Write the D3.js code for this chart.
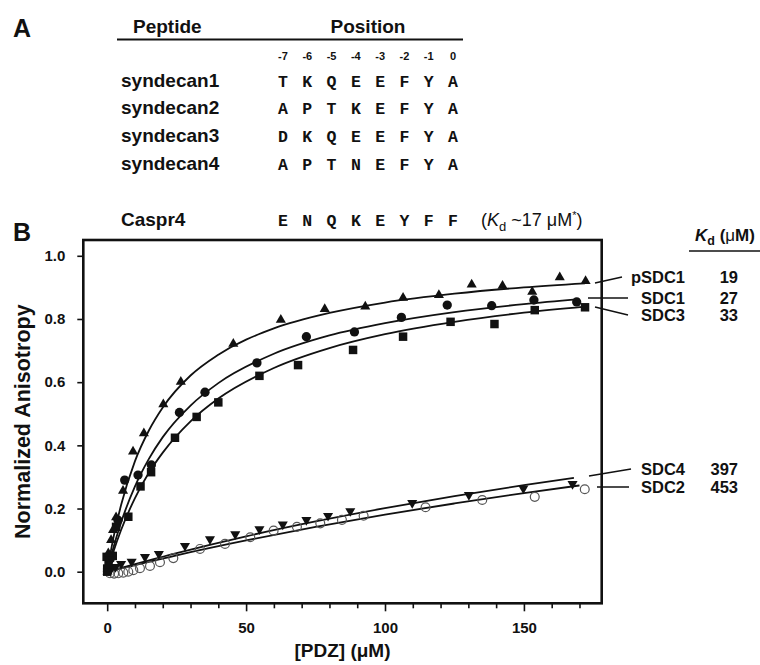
<!DOCTYPE html>
<html>
<head>
<meta charset="utf-8">
<script src="https://cdn.jsdelivr.net/npm/d3@7"></script>
<style>
  body { margin: 0; background: #fff; }
  text { font-family: "Liberation Sans", Arial, Helvetica, sans-serif; fill: #111; }
</style>
</head>
<body>
<div id="chart"></div>
<script>
// ---- panel A: peptide table ----
let positions = ['-7', '-6', '-5', '-4', '-3', '-2', '-1', '0']
let peptides = ['syndecan1', 'syndecan2', 'syndecan3', 'syndecan4', 'Caspr4']
let sequences = ['TKQEEFYA', 'APTKEFYA', 'DKQEEFYA', 'APTNEFYA', 'ENQKEYFF']

// ---- panel B: [PDZ] (uM) vs normalized anisotropy ----
let pSDC1Points = [[0.1, 0.0], [0.2, 0.01], [0.6, 0.02], [0.4, 0.058], [1.4, 0.10], [2.1, 0.132], [3.2, 0.172],
  [5.7, 0.256], [9.3, 0.38], [13.2, 0.438], [20.2, 0.530], [26.5, 0.601], [45.4, 0.721], [62.5, 0.797],
  [78.3, 0.831], [92.9, 0.839], [106.5, 0.867], [119.4, 0.876], [131.2, 0.909], [142.3, 0.905],
  [153.0, 0.886], [162.9, 0.932], [172.2, 0.92]]
let sdc1Points = [[0.3, 0.01], [1.0, 0.04], [1.8, 0.05], [3.9, 0.163], [6.3, 0.29], [11.1, 0.306], [15.9, 0.338],
  [26.0, 0.504], [35.2, 0.568], [53.9, 0.661], [71.7, 0.744], [89.0, 0.759], [105.9, 0.805],
  [122.4, 0.844], [138.4, 0.842], [153.6, 0.860], [169.0, 0.854]]
let sdc3Points = [[0.0, 0.0], [0.0, 0.01], [0.5, 0.03], [-0.2, 0.047], [1.0, 0.045], [2.0, 0.05], [3.2, 0.142],
  [7.6, 0.174], [12.0, 0.27], [15.8, 0.315], [24.4, 0.424], [32.2, 0.490], [40.0, 0.536], [54.8, 0.620],
  [68.7, 0.654], [88.5, 0.702], [106.5, 0.744], [123.6, 0.791], [139.4, 0.784], [153.9, 0.828], [172.0, 0.837]]
let sdc4Points = [[0.5, 0.005], [1.5, 0.01], [3.0, 0.015], [5.0, 0.025], [8.8, 0.032], [13.6, 0.047], [18.6, 0.056],
  [28.0, 0.082], [37.0, 0.103], [46.1, 0.119], [54.8, 0.135], [63.2, 0.150], [71.7, 0.164], [79.5, 0.177],
  [87.5, 0.192], [109.8, 0.218], [130.2, 0.243], [149.8, 0.264], [167.5, 0.278]]
let sdc2Points = [[1.0, -0.005], [2.5, -0.006], [4.0, -0.005], [5.8, -0.003], [7.6, 0.0], [9.4, 0.005],
  [11.8, 0.011], [15.4, 0.018], [19.0, 0.03], [23.8, 0.043], [33.4, 0.072], [42.4, 0.088], [51.5, 0.109],
  [59.9, 0.13], [68.3, 0.142], [76.7, 0.153], [84.5, 0.164], [92.3, 0.177], [114.6, 0.204], [135.0, 0.227],
  [153.9, 0.237], [171.9, 0.261]]

// fitted curves
let fitPSDC1 = [[0, 0], [2, 0.097], [5, 0.211], [10, 0.35], [15, 0.447], [20, 0.52], [30, 0.621], [40, 0.687],
  [60, 0.77], [80, 0.819], [100, 0.852], [125, 0.88], [150, 0.9], [172, 0.913]]
let fitSDC1 = [[0, 0], [2, 0.069], [5, 0.156], [10, 0.27], [15, 0.357], [20, 0.426], [30, 0.526], [40, 0.597],
  [60, 0.69], [80, 0.748], [100, 0.787], [125, 0.822], [150, 0.847], [170, 0.863]]
let fitSDC3 = [[0, 0], [2, 0.057], [5, 0.132], [10, 0.233], [15, 0.313], [20, 0.377], [30, 0.476], [40, 0.548],
  [60, 0.645], [80, 0.708], [100, 0.752], [125, 0.791], [150, 0.82], [172, 0.839]]
let fitSDC4 = [[0, 0], [25, 0.059], [50, 0.112], [75, 0.159], [100, 0.201], [125, 0.239], [150, 0.274], [168, 0.297]]
let fitSDC2 = [[0, 0], [25, 0.052], [50, 0.099], [75, 0.142], [100, 0.181], [125, 0.216], [150, 0.249], [170, 0.273]]

let curveNames = ['pSDC1', 'SDC1', 'SDC3', 'SDC4', 'SDC2']
let kdValues = ['19', '27', '33', '397', '453']

let xMajor = [0, 50, 100, 150]
let xMinor = [10, 20, 30, 40, 60, 70, 80, 90, 110, 120, 130, 140, 160, 170]
let yTicks = [0, 0.2, 0.4, 0.6, 0.8, 1.0]

// ---- layout ----
let width = 760,
  height = 665,
  plot = { left: 83.3, right: 601.7, top: 240, bottom: 603.3 },
  labelFont = 19, // panel A label size
  seqFont = 16.5

let svg = d3.select('#chart').append('svg')
  .attr('width', width)
  .attr('height', height)

// ================= panel A =================
let col = d3.scalePoint()
  .domain(positions)
  .range([283, 453])

let rowY = d3.scaleLinear()
  .domain([0, 3])
  .range([86.5, 170])

function rowIndex(i) {
  return i < 4 ? i : 5 // gap before Caspr4
}

svg.append('text')
  .attr('x', 13).attr('y', 37)
  .attr('font-size', 25).attr('font-weight', 'bold')
  .text('A')

svg.append('text')
  .attr('x', 133).attr('y', 32.5)
  .attr('font-size', labelFont).attr('font-weight', 'bold')
  .text('Peptide')

svg.append('text')
  .attr('x', (col('-7') + col('0')) / 2).attr('y', 32.5)
  .attr('text-anchor', 'middle')
  .attr('font-size', labelFont).attr('font-weight', 'bold')
  .text('Position')

svg.append('line')
  .attr('x1', 117).attr('x2', 463)
  .attr('y1', 39.5).attr('y2', 39.5)
  .attr('stroke', '#111').attr('stroke-width', 2)

svg.append('g').selectAll('.pos-num')
  .data(positions)
  .enter().append('text')
  .attr('x', function (d) { return col(d) })
  .attr('y', 60)
  .attr('text-anchor', 'middle')
  .attr('font-size', 11).attr('font-weight', 'bold')
  .text(function (d) { return d })

svg.append('g').selectAll('.pep-name')
  .data(peptides)
  .enter().append('text')
  .attr('x', 121)
  .attr('y', function (d, i) { return rowY(rowIndex(i)) })
  .attr('font-size', labelFont).attr('font-weight', 'bold')
  .text(function (d) { return d })

sequences.forEach(function (seq, i) {
  svg.append('g').selectAll('text')
    .data(seq.split(''))
    .enter().append('text')
    .attr('x', function (d, j) { return col(positions[j]) })
    .attr('y', rowY(rowIndex(i)))
    .attr('text-anchor', 'middle')
    .attr('font-size', seqFont)
    .attr('font-weight', 'bold')
    .style('font-family', '"Courier New", "Liberation Mono", "DejaVu Sans Mono", monospace')
    .text(function (d) { return d })
})

let kdNote = svg.append('text')
  .attr('x', 481).attr('y', rowY(5))
  .attr('font-size', 18)
kdNote.append('tspan').text('(')
kdNote.append('tspan').attr('font-style', 'italic').text('K')
kdNote.append('tspan').attr('font-size', 13).attr('dy', 5).text('d')
kdNote.append('tspan').attr('dy', -5).text(' ~17 \u03bcM')
kdNote.append('tspan').attr('font-size', 11).attr('dy', -7).text('*')
kdNote.append('tspan').attr('dy', 7).text(')')

// ================= panel B =================
let x = d3.scaleLinear()
  .domain([-8.6, 178])
  .range([plot.left, plot.right])

let y = d3.scaleLinear()
  .domain([-0.1, 1.05])
  .range([plot.bottom, plot.top])

svg.append('text')
  .attr('x', 13).attr('y', 241)
  .attr('font-size', 25).attr('font-weight', 'bold')
  .text('B')

// axes
let axisFont = '"Liberation Sans", Arial, sans-serif'

let gx = svg.append('g')
  .attr('transform', 'translate(0,' + plot.bottom + ')')
  .call(d3.axisBottom(x).tickValues(xMajor).tickSize(8).tickPadding(11).tickFormat(d3.format('d')))
gx.select('.domain').remove()

let gxMinor = svg.append('g')
  .attr('transform', 'translate(0,' + plot.bottom + ')')
  .call(d3.axisBottom(x).tickValues(xMinor).tickSize(5).tickFormat(''))
gxMinor.select('.domain').remove()

let gy = svg.append('g')
  .attr('transform', 'translate(' + plot.left + ',0)')
  .call(d3.axisLeft(y).tickValues(yTicks).tickSize(6).tickPadding(12).tickFormat(d3.format('.1f')))
gy.select('.domain').remove()

svg.selectAll('.tick line').attr('stroke', '#111').attr('stroke-width', 1.6)
svg.selectAll('.tick text')
  .attr('font-size', 15)
  .attr('font-weight', 'bold')
  .attr('font-family', axisFont)
  .attr('fill', '#111')

svg.append('text')
  .attr('x', (plot.left + plot.right) / 2).attr('y', 657)
  .attr('text-anchor', 'middle')
  .attr('font-size', 19).attr('font-weight', 'bold')
  .text('[PDZ] (\u03bcM)')

svg.append('text')
  .attr('transform', 'translate(30,' + (plot.top + plot.bottom) / 2 + ') rotate(-90)')
  .attr('text-anchor', 'middle')
  .attr('font-size', 21.5).attr('font-weight', 'bold')
  .text('Normalized Anisotropy')

// fitted lines
let line = d3.line()
  .x(function (d) { return x(d[0]) })
  .y(function (d) { return y(d[1]) })
  .curve(d3.curveMonotoneX)

let fits = [fitPSDC1, fitSDC1, fitSDC3, fitSDC4, fitSDC2]

svg.append('g').selectAll('.fit')
  .data(fits)
  .enter().append('path')
  .attr('d', line)
  .attr('fill', 'none')
  .attr('stroke', '#111')
  .attr('stroke-width', 1.8)

// data markers
let series = [
  { pts: sdc2Points, type: d3.symbolCircle, size: 62, rot: 0, fill: 'none', stroke: '#555' },
  { pts: sdc4Points, type: d3.symbolTriangle, size: 44, rot: 180, fill: '#111', stroke: 'none' },
  { pts: sdc3Points, type: d3.symbolSquare, size: 72, rot: 0, fill: '#111', stroke: 'none' },
  { pts: sdc1Points, type: d3.symbolCircle, size: 68, rot: 0, fill: '#111', stroke: 'none' },
  { pts: pSDC1Points, type: d3.symbolTriangle, size: 44, rot: 0, fill: '#111', stroke: 'none' }
]

series.forEach(function (s) {
  svg.append('g').selectAll('path')
    .data(s.pts)
    .enter().append('path')
    .attr('d', d3.symbol().type(s.type).size(s.size))
    .attr('transform', function (d) {
      return 'translate(' + x(d[0]) + ',' + y(d[1]) + ') rotate(' + s.rot + ')'
    })
    .attr('fill', s.fill)
    .attr('stroke', s.stroke)
    .attr('stroke-width', 1.2)
})

// frame
svg.append('rect')
  .attr('x', plot.left).attr('y', plot.top)
  .attr('width', plot.right - plot.left)
  .attr('height', plot.bottom - plot.top)
  .attr('fill', 'none')
  .attr('stroke', '#111')
  .attr('stroke-width', 2.6)

// curve labels with leader lines
let leaderX1 = [595, 588, 595, 589, 597],
  leaderX2 = [622, 628, 628, 631, 629],
  leaderY1 = [283, 298, 307, 476, 487],
  leaderY2 = [277, 298, 315, 469, 487]

let labels = svg.append('g')

curveNames.forEach(function (name, i) {
  labels.append('line')
    .attr('x1', leaderX1[i]).attr('y1', leaderY1[i])
    .attr('x2', leaderX2[i]).attr('y2', leaderY2[i])
    .attr('stroke', '#111').attr('stroke-width', 1.5)

  labels.append('text')
    .attr('x', 685).attr('y', leaderY2[i])
    .attr('dy', '0.36em')
    .attr('text-anchor', 'end')
    .attr('font-size', 16.5).attr('font-weight', 'bold')
    .text(name)

  labels.append('text')
    .attr('x', 738).attr('y', leaderY2[i])
    .attr('dy', '0.36em')
    .attr('text-anchor', 'end')
    .attr('font-size', 16.5).attr('font-weight', 'bold')
    .text(kdValues[i])
})

let kdHead = svg.append('text')
  .attr('x', 695).attr('y', 241)
  .attr('font-size', 17).attr('font-weight', 'bold')
kdHead.append('tspan').attr('font-style', 'italic').text('K')
kdHead.append('tspan').attr('font-size', 12.5).attr('dy', 4).text('d')
kdHead.append('tspan').attr('dy', -4).text(' (')
kdHead.append('tspan').attr('font-weight', 'normal').text('\u03bc')
kdHead.append('tspan').text('M)')

svg.append('line')
  .attr('x1', 689).attr('x2', 760)
  .attr('y1', 251).attr('y2', 251)
  .attr('stroke', '#111').attr('stroke-width', 1.5)
</script>
</body>
</html>
